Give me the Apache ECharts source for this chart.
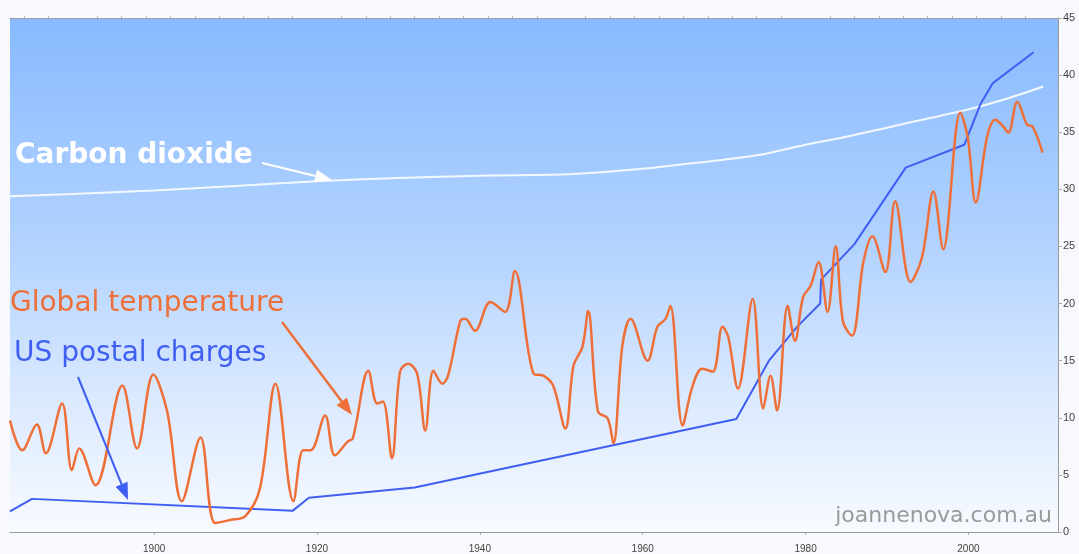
<!DOCTYPE html>
<html>
<head>
<meta charset="utf-8">
<script src="https://cdn.jsdelivr.net/npm/echarts@6/dist/echarts.min.js"></script>
<style>
html,body{margin:0;padding:0;background:#f8f9fc;}
#chart{width:1079px;height:554px;}
</style>
</head>
<body>
<div id="chart"></div>
<script>
// ---- data (year, value) ----
var co2Years   = [1882.3,1890,1900,1910,1920,1930,1940,1950,1955,1960,1965,1970,1975,1980,1985,1990,1995,2000,2005,2009.2];
var co2Values  = [29.4,29.6,29.9,30.3,30.7,31.0,31.2,31.3,31.5,31.8,32.2,32.6,33.1,33.9,34.6,35.4,36.2,37.0,38.0,39.0];

var postalYears  = [1882.3,1885,1917,1919,1932,1971.5,1975.5,1979,1981.8,1981.9,1986,1992.3,1999.5,2001.5,2003,2008];
var postalValues = [1.8,2.9,1.85,3.0,3.9,9.9,15.0,18.0,20.0,22.1,25.2,31.9,33.9,37.5,39.3,42.0];

var tempYears = [1882.3,1883.8,1885.6,1886.7,1888.7,1889.9,1890.8,1892.8,1896.1,1897.9,1899.9,1901.6,1903.4,1905.7,1907.5,1909.3,1911.2,1913.0,1914.9,1917.1,1918.3,1919.2,1921.0,1922.2,1923.8,1924.4,1926.3,1927.4,1928.1,1929.2,1930.2,1931.2,1932.3,1933.3,1934.3,1935.4,1936.1,1937.6,1938.2,1939.4,1941.3,1943.1,1944.3,1946.6,1947.8,1949.0,1950.5,1951.5,1952.6,1953.3,1954.5,1955.7,1956.4,1957.5,1958.5,1960.6,1961.8,1962.8,1963.4,1964.9,1966.1,1967.3,1968.6,1969.8,1970.5,1971.7,1973.5,1974.8,1975.7,1976.5,1977.8,1978.7,1979.7,1980.6,1981.6,1982.7,1983.7,1984.6,1985.7,1987.1,1988.2,1989.8,1991.0,1992.9,1994.3,1995.7,1996.9,1999.0,1999.9,2000.9,2002.3,2003.3,2004.3,2004.9,2006.0,2007.2,2007.9,2009.1];
var tempValues = [9.76,7.15,9.42,6.89,11.25,5.41,7.32,4.10,12.82,7.32,13.78,10.55,2.70,8.28,0.78,1.05,1.39,3.84,12.99,2.70,7.15,7.15,10.20,6.71,7.93,8.20,14.12,11.25,11.42,6.45,14.04,14.73,13.86,8.89,14.12,12.99,13.69,18.48,18.66,17.61,20.14,19.27,22.84,13.86,13.69,12.82,9.07,14.56,16.22,19.35,10.55,9.94,7.76,16.30,18.66,15.00,17.96,18.66,19.79,9.33,12.73,14.30,14.04,17.96,17.09,12.55,20.40,10.81,13.69,10.64,19.79,16.74,20.58,21.53,23.63,19.27,25.02,18.40,17.18,23.63,25.89,22.76,28.95,21.88,24.06,29.82,24.76,36.70,34.61,28.84,34.61,36.09,35.48,34.96,37.66,35.66,35.48,33.22];

var xTickLabels = [1900,1920,1940,1960,1980,2000];
var yTickLabels = [0,5,10,15,20,25,30,35,40,45];

function pairs(xs, ys){ return xs.map(function(x,i){ return [x, ys[i]]; }); }

var chart = echarts.init(document.getElementById('chart'));

function arrow(x1,y1,x2,y2,color,w){
  var ang = Math.atan2(y2-y1, x2-x1);
  var L = 17, W = 6.5;
  var bx = x2 - L*Math.cos(ang), by = y2 - L*Math.sin(ang);
  var px = -Math.sin(ang)*W, py = Math.cos(ang)*W;
  return [
    {type:'line', shape:{x1:x1,y1:y1,x2:bx,y2:by}, style:{stroke:color,lineWidth:w}, z:100},
    {type:'polygon', shape:{points:[[x2,y2],[bx+px,by+py],[bx-px,by-py]]}, style:{fill:color}, z:100}
  ];
}

var graphics = [
  {type:'text', left:15, top:142, style:{text:'Carbon dioxide', fill:'#ffffff', font:'bold 28px "DejaVu Sans"'}, z:100},
  {type:'text', left:10, top:290, style:{text:'Global temperature', fill:'#ee6f38', font:'28px "DejaVu Sans"'}, z:100},
  {type:'text', left:14, top:340, style:{text:'US postal charges', fill:'#3f5ff2', font:'28px "DejaVu Sans"'}, z:100},
  {type:'text', right:27, top:505, style:{text:'joannenova.com.au', fill:'#9a9a9a', font:'22px "DejaVu Sans"'}, z:100}
].concat(arrow(262,163,332,180,'#ffffff',2))
 .concat(arrow(282,322,352,415,'#ee6f38',2.5))
 .concat(arrow(78,377,128,500,'#3f5ff2',2));

var option = {
  backgroundColor:'#f8f9fc',
  animation:false,
  grid:{left:10, right:21, top:18, bottom:20, show:true, borderWidth:0,
    backgroundColor:new echarts.graphic.LinearGradient(0,0,0,1,[
      {offset:0,color:'#87baff'},
      {offset:0.45,color:'#b3d3ff'},
      {offset:0.75,color:'#dceaff'},
      {offset:1,color:'#f7faff'}
    ])},
  xAxis:[{
    type:'value', min:1882.3, max:2011, position:'bottom',
    axisLine:{show:true, lineStyle:{color:'#9a9a9a', width:1}},
    axisTick:{show:true, length:3, customValues:xTickLabels, lineStyle:{color:'#aaa'}},
    axisLabel:{customValues:xTickLabels, margin:12, fontSize:10, color:'#444', fontFamily:'Liberation Sans',
      formatter:function(v){ return String(Math.round(v)); }},
    splitLine:{show:false}
  },{
    type:'value', min:1882.3, max:2011, position:'top',
    axisLine:{show:true, lineStyle:{color:'#a0a0a0', width:1}},
    axisTick:{show:false}, axisLabel:{show:false}, splitLine:{show:false},
    minorTick:{show:true, splitNumber:10, length:2, lineStyle:{color:'#b8b8b8'}}
  }],
  yAxis:{
    type:'value', min:0, max:45, interval:5, position:'right',
    axisLine:{show:true, lineStyle:{color:'#9a9a9a', width:1}},
    axisTick:{show:true, length:4, lineStyle:{color:'#aaa'}},
    axisLabel:{margin:5, fontSize:11, color:'#444', fontFamily:'Liberation Sans',
      formatter:function(v){ return yTickLabels.indexOf(v)>=0 ? String(v) : ''; }},
    splitLine:{show:false}
  },
  graphic:graphics,
  series:[
    {type:'line', name:'Carbon dioxide', data:pairs(co2Years,co2Values), smooth:0.3, showSymbol:false,
      lineStyle:{color:'#f4f8ff', width:2}, z:2},
    {type:'line', name:'US postal charges', data:pairs(postalYears,postalValues), smooth:false, showSymbol:false,
      lineStyle:{color:'#3f5ff2', width:2}, z:3},
    {type:'line', name:'Global temperature', data:pairs(tempYears,tempValues), smooth:0.35, showSymbol:false,
      lineStyle:{color:'#ee6f38', width:2.5}, z:4}
  ]
};
chart.setOption(option);
</script>
</body>
</html>
